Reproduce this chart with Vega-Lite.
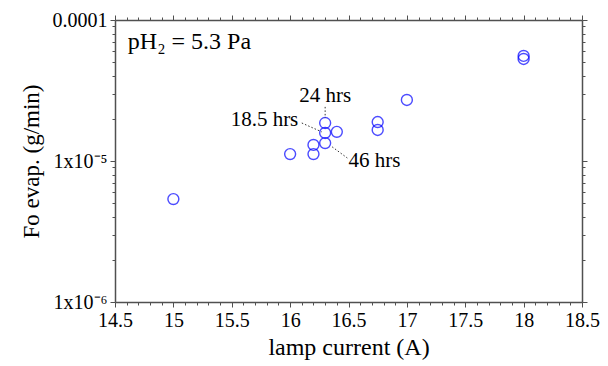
{
  "$schema": "https://vega.github.io/schema/vega-lite/v6.json",
  "width": 467,
  "height": 282,
  "autosize": {"type": "none"},
  "padding": {"left": 115, "top": 20, "right": 26, "bottom": 64},
  "background": "white",
  "config": {
    "view": {"stroke": null},
    "font": "Liberation Serif",
    "axis": {
      "domainColor": "#505050",
      "domainWidth": 1.5,
      "tickColor": "#505050",
      "tickWidth": 1,
      "grid": false,
      "labelFont": "Liberation Serif",
      "labelFontSize": 20,
      "labelColor": "#000",
      "titleFont": "Liberation Serif",
      "titleFontSize": 24,
      "titleFontWeight": "normal",
      "titleColor": "#000",
      "labelFlush": false,
      "labelOverlap": false
    }
  },
  "resolve": {"axis": {"x": "independent", "y": "independent"}},
  "layer": [
    {
      "data": {"values": [
        {"current": 15.0, "evap": 5.37e-6},
        {"current": 16.0, "evap": 1.12e-5},
        {"current": 16.2, "evap": 1.30e-5},
        {"current": 16.2, "evap": 1.12e-5},
        {"current": 16.3, "evap": 1.86e-5},
        {"current": 16.3, "evap": 1.58e-5},
        {"current": 16.3, "evap": 1.34e-5},
        {"current": 16.4, "evap": 1.61e-5},
        {"current": 16.75, "evap": 1.89e-5},
        {"current": 16.75, "evap": 1.66e-5},
        {"current": 17.0, "evap": 2.71e-5},
        {"current": 18.0, "evap": 5.56e-5},
        {"current": 18.0, "evap": 5.29e-5}
      ]},
      "mark": {"type": "point", "shape": "circle", "filled": false, "stroke": "#0000ff", "strokeWidth": 1.4, "size": 120, "clip": true},
      "encoding": {
        "x": {
          "field": "current", "type": "quantitative",
          "scale": {"domain": [14.5, 18.5], "nice": false, "zero": false},
          "axis": {
            "orient": "bottom",
            "title": "lamp current (A)",
            "values": [14.5,14.6,14.7,14.8,14.9,15,15.1,15.2,15.3,15.4,15.5,15.6,15.7,15.8,15.9,16,16.1,16.2,16.3,16.4,16.5,16.6,16.7,16.8,16.9,17,17.1,17.2,17.3,17.4,17.5,17.6,17.7,17.8,17.9,18,18.1,18.2,18.3,18.4,18.5],
            "labelExpr": "abs(datum.value*2 - round(datum.value*2)) < 0.001 ? toString(datum.value) : ''",
            "tickSize": {"condition": {"test": "abs(datum.value*2 - round(datum.value*2)) < 0.001", "value": 5}, "value": 3},
            "labelPadding": 3,
            "titlePadding": 5
          }
        },
        "y": {
          "field": "evap", "type": "quantitative",
          "scale": {"type": "log", "domain": [1e-6, 1e-4], "nice": false},
          "axis": {
            "orient": "left",
            "title": "Fo evap. (g/min)",
            "titleFontSize": 23,
            "values": [1e-6,2e-6,3e-6,4e-6,5e-6,6e-6,7e-6,8e-6,9e-6,1e-5,2e-5,3e-5,4e-5,5e-5,6e-5,7e-5,8e-5,9e-5,1e-4],
            "labelExpr": "datum.value == 1e-4 ? '0.0001' : datum.value == 1e-5 ? '1x10⁻⁵' : datum.value == 1e-6 ? '1x10⁻⁶' : ''",
            "tickSize": {"condition": {"test": "datum.value == 1e-4 || datum.value == 1e-5 || datum.value == 1e-6", "value": 5}, "value": 3},
            "labelPadding": 3,
            "titlePadding": 9
          }
        }
      }
    },
    {
      "data": {"values": [{"current": 16.5, "evap": 9.06e-6, "label": "46 hrs"}]},
      "mark": {"type": "text", "align": "left", "baseline": "alphabetic", "fontSize": 21, "font": "Liberation Serif", "color": "#000"},
      "encoding": {
        "x": {
          "field": "current", "type": "quantitative",
          "scale": {"domain": [14.5, 18.5], "nice": false, "zero": false},
          "axis": {
            "orient": "top", "title": null, "labels": false,
            "values": [14.5,14.6,14.7,14.8,14.9,15,15.1,15.2,15.3,15.4,15.5,15.6,15.7,15.8,15.9,16,16.1,16.2,16.3,16.4,16.5,16.6,16.7,16.8,16.9,17,17.1,17.2,17.3,17.4,17.5,17.6,17.7,17.8,17.9,18,18.1,18.2,18.3,18.4,18.5],
            "tickSize": {"condition": {"test": "abs(datum.value*2 - round(datum.value*2)) < 0.001", "value": 5}, "value": 3}
          }
        },
        "y": {
          "field": "evap", "type": "quantitative",
          "scale": {"type": "log", "domain": [1e-6, 1e-4], "nice": false},
          "axis": {
            "orient": "right", "title": null, "labels": false,
            "values": [1e-6,2e-6,3e-6,4e-6,5e-6,6e-6,7e-6,8e-6,9e-6,1e-5,2e-5,3e-5,4e-5,5e-5,6e-5,7e-5,8e-5,9e-5,1e-4],
            "tickSize": {"condition": {"test": "datum.value == 1e-4 || datum.value == 1e-5 || datum.value == 1e-6", "value": 5}, "value": 3}
          }
        },
        "text": {"field": "label"}
      }
    },
    {
      "data": {"values": [{"current": 16.07, "evap": 1.77e-5, "label": "18.5 hrs"}]},
      "mark": {"type": "text", "align": "right", "baseline": "alphabetic", "fontSize": 21, "font": "Liberation Serif", "color": "#000"},
      "encoding": {
        "x": {"field": "current", "type": "quantitative", "axis": null},
        "y": {"field": "evap", "type": "quantitative", "axis": null},
        "text": {"field": "label"}
      }
    },
    {
      "data": {"values": [{"current": 16.3, "evap": 2.62e-5, "label": "24 hrs"}]},
      "mark": {"type": "text", "align": "center", "baseline": "alphabetic", "fontSize": 21, "font": "Liberation Serif", "color": "#000"},
      "encoding": {
        "x": {"field": "current", "type": "quantitative", "axis": null},
        "y": {"field": "evap", "type": "quantitative", "axis": null},
        "text": {"field": "label"}
      }
    },
    {
      "data": {"values": [{"current": 14.61, "evap": 6.2e-5, "label": "pH₂ = 5.3 Pa"}]},
      "mark": {"type": "text", "align": "left", "baseline": "alphabetic", "fontSize": 24, "font": "Liberation Serif", "color": "#000"},
      "encoding": {
        "x": {"field": "current", "type": "quantitative", "axis": null},
        "y": {"field": "evap", "type": "quantitative", "axis": null},
        "text": {"field": "label"}
      }
    },
    {
      "data": {"values": [
        {"x1": 16.3, "x2": 16.3, "y1": 2.42e-5, "y2": 2.02e-5},
        {"x1": 16.1, "x2": 16.27, "y1": 1.86e-5, "y2": 1.61e-5},
        {"x1": 16.36, "x2": 16.49, "y1": 1.26e-5, "y2": 1.05e-5}
      ]},
      "mark": {"type": "rule", "stroke": "#333", "strokeWidth": 1, "strokeDash": [1.5, 2]},
      "encoding": {
        "x": {"field": "x1", "type": "quantitative", "axis": null},
        "x2": {"field": "x2"},
        "y": {"field": "y1", "type": "quantitative", "axis": null},
        "y2": {"field": "y2"}
      }
    }
  ]
}
